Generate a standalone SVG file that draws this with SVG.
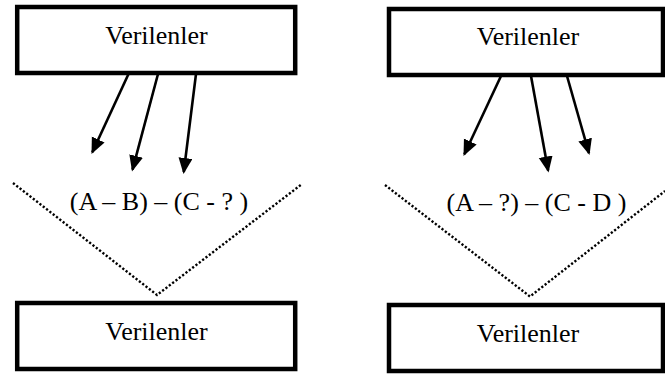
<svg xmlns="http://www.w3.org/2000/svg" width="665" height="376" viewBox="0 0 665 376">
<defs>
<style>
.box{fill:#fff;stroke:#000;stroke-width:4.5}
.lbl{font-family:"Liberation Serif","Times New Roman",serif;font-size:26px;fill:#000;text-anchor:middle}
.arr{stroke:#000;stroke-width:2.6;fill:none;marker-end:url(#ah)}
.dot{stroke:#000;stroke-width:2.4;fill:none;stroke-dasharray:2.2 2}
</style>
<marker id="ah" markerUnits="userSpaceOnUse" markerWidth="18" markerHeight="16" refX="14" refY="7" orient="auto">
<path d="M0,0 L16,7 L0,14 z" fill="#000"/>
</marker>
</defs>
<rect width="665" height="376" fill="#fff"/>
<g id="left-top"><rect class="box" x="17.2" y="7" width="278" height="66"/><text class="lbl" x="156.5" y="43.5">Verilenler</text></g>
<g id="right-top"><rect class="box" x="389" y="9" width="274" height="66"/><text class="lbl" x="528" y="45">Verilenler</text></g>
<g id="left-bottom"><rect class="box" x="17.2" y="303" width="278" height="66"/><text class="lbl" x="156.5" y="340">Verilenler</text></g>
<g id="right-bottom"><rect class="box" x="389" y="305" width="274" height="66"/><text class="lbl" x="528" y="341.5">Verilenler</text></g>
<g id="left-expr"><text class="lbl" x="159" y="210">(A – B) – (C - ? )</text></g>
<g id="right-expr"><text class="lbl" x="536.5" y="211">(A – ?) – (C - D )</text></g>
<g id="connectors">
<line class="arr" x1="128.5" y1="74" x2="92.34" y2="152.18"/>
<line class="arr" x1="158" y1="74" x2="132.52" y2="169.57"/>
<line class="arr" x1="196" y1="74" x2="183.75" y2="172.02"/>
<line class="arr" x1="501" y1="76" x2="464.35" y2="154.19"/>
<line class="arr" x1="531" y1="76" x2="548.14" y2="170.53"/>
<line class="arr" x1="567" y1="76" x2="588.95" y2="153.08"/>
<polyline class="dot" points="13,183 157,295 302,184"/>
<polyline class="dot" points="385,185 530,296.5 665,191"/>
</g>
</svg>
